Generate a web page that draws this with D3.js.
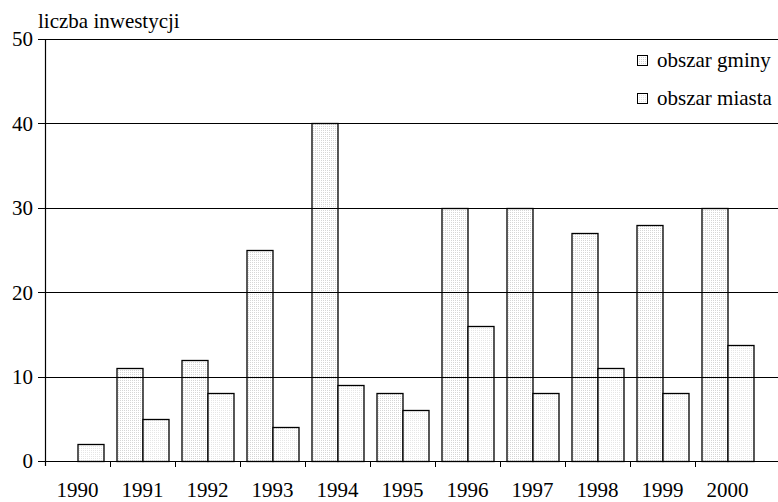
<!DOCTYPE html>
<html lang="pl">
<head>
    <meta charset="UTF-8">
    <title>Liczba inwestycji</title>
    <script src="https://d3js.org/d3.v7.min.js"></script>
    <style>
        body { margin: 0; background: #fff; }
        svg text { font-family: "Times New Roman", "Liberation Serif", "DejaVu Serif", serif; fill: #000; }
    </style>
</head>
<body>
<div id="chart"></div>

<script>
    // dane
    var years = ["1990", "1991", "1992", "1993", "1994", "1995", "1996", "1997", "1998", "1999", "2000"];
    var gmina = [0, 11, 12, 25, 40, 8, 30, 30, 27, 28, 30];
    var miasto = [2, 5, 8, 4, 9, 6, 16, 8, 11, 8, 13.7];
    var yTicks = [0, 10, 20, 30, 40, 50];
    var seriesKeys = ["gmina", "miasto"];
    var seriesNames = ["obszar gminy", "obszar miasta"];

    var W = 778, H = 502;
    var plot = {left: 45, right: 760, top: 39, bottom: 461};
    var fontSize = "21px";

    var svg = d3.select("#chart")
        .append("svg")
            .attr("width", W)
            .attr("height", H);

    // wzory kropkowane
    var defs = svg.append("defs");
    var dots = {gmina: "#d6d6d6", miasto: "#e6e6e6"};
    seriesKeys.forEach(function(k) {
        var p = defs.append("pattern")
            .attr("id", "dots-" + k)
            .attr("width", 2).attr("height", 2)
            .attr("patternUnits", "userSpaceOnUse");
        p.append("rect").attr("width", 2).attr("height", 2).attr("fill", "#fff");
        p.append("rect").attr("width", 1).attr("height", 1).attr("fill", dots[k]);
    });

    var x = d3.scaleBand()
        .domain(years)
        .range([plot.left, plot.right])
        .padding(0);

    var xInner = d3.scaleBand()
        .domain(seriesKeys)
        .range([0, x.bandwidth()])
        .paddingInner(0)
        .paddingOuter(0.25);

    var y = d3.scaleLinear()
        .domain([0, 50])
        .range([plot.bottom, plot.top]);

    var rows = years.map(function(yr, i) {
        return {year: yr, gmina: gmina[i], miasto: miasto[i]};
    });

    // słupki
    var groups = svg.append("g")
        .selectAll("g")
        .data(rows)
        .enter()
        .append("g")
            .attr("transform", function(d) { return "translate(" + x(d.year) + ",0)"; });

    groups.selectAll("rect")
        .data(function(d) {
            return seriesKeys
                .map(function(k) { return {key: k, value: d[k]}; })
                .filter(function(v) { return v.value > 0; });
        })
        .enter()
        .append("rect")
            .attr("x", function(d) { return xInner(d.key) + 0.5; })
            .attr("y", function(d) { return Math.round(y(d.value)) + 0.5; })
            .attr("width", xInner.bandwidth())
            .attr("height", function(d) { return Math.round(y(0)) - Math.round(y(d.value)); })
            .attr("fill", function(d) { return "url(#dots-" + d.key + ")"; })
            .attr("stroke", "#000")
            .attr("stroke-width", 1.3);

    // linie siatki
    svg.append("g")
        .selectAll("line")
        .data(yTicks)
        .enter()
        .append("line")
            .attr("x1", plot.left - 7)
            .attr("x2", W)
            .attr("y1", function(d) { return Math.round(y(d)) + 0.5; })
            .attr("y2", function(d) { return Math.round(y(d)) + 0.5; })
            .attr("stroke", "#000")
            .attr("stroke-width", function(d) { return d === 0 ? 1.2 : 1; });

    // oś Y
    svg.append("line")
        .attr("x1", plot.left + 0.5).attr("x2", plot.left + 0.5)
        .attr("y1", y(50)).attr("y2", y(0) + 5)
        .attr("stroke", "#000")
        .attr("stroke-width", 1.2);

    svg.append("g")
        .selectAll("text")
        .data(yTicks)
        .enter()
        .append("text")
            .attr("x", 33)
            .attr("y", function(d) { return y(d); })
            .attr("dy", "0.35em")
            .attr("text-anchor", "end")
            .style("font-size", fontSize)
            .text(function(d) { return d; });

    // znaczniki osi X
    svg.append("g")
        .selectAll("line")
        .data(years.slice(1))
        .enter()
        .append("line")
            .attr("x1", function(d) { return Math.round(x(d)) + 0.5; })
            .attr("x2", function(d) { return Math.round(x(d)) + 0.5; })
            .attr("y1", y(0))
            .attr("y2", y(0) + 6)
            .attr("stroke", "#000");

    svg.append("g")
        .selectAll("text")
        .data(years)
        .enter()
        .append("text")
            .attr("x", function(d) { return x(d) + x.bandwidth() / 2; })
            .attr("y", 497)
            .attr("text-anchor", "middle")
            .style("font-size", fontSize)
            .text(function(d) { return d; });

    // tytuł osi
    svg.append("text")
        .attr("x", 38)
        .attr("y", 28)
        .style("font-size", fontSize)
        .text("liczba inwestycji");

    // legenda
    var legend = svg.append("g")
        .selectAll("g")
        .data(seriesKeys)
        .enter()
        .append("g")
            .attr("transform", function(d, i) { return "translate(637," + (55 + i * 38) + ")"; });

    legend.append("rect")
        .attr("x", 0.5).attr("y", 0.5)
        .attr("width", 10).attr("height", 10)
        .attr("fill", function(d) { return "url(#dots-" + d + ")"; })
        .attr("stroke", "#000");

    legend.append("text")
        .attr("x", 20)
        .attr("y", 12)
        .style("font-size", fontSize)
        .text(function(d, i) { return seriesNames[i]; });
</script>
</body>
</html>
